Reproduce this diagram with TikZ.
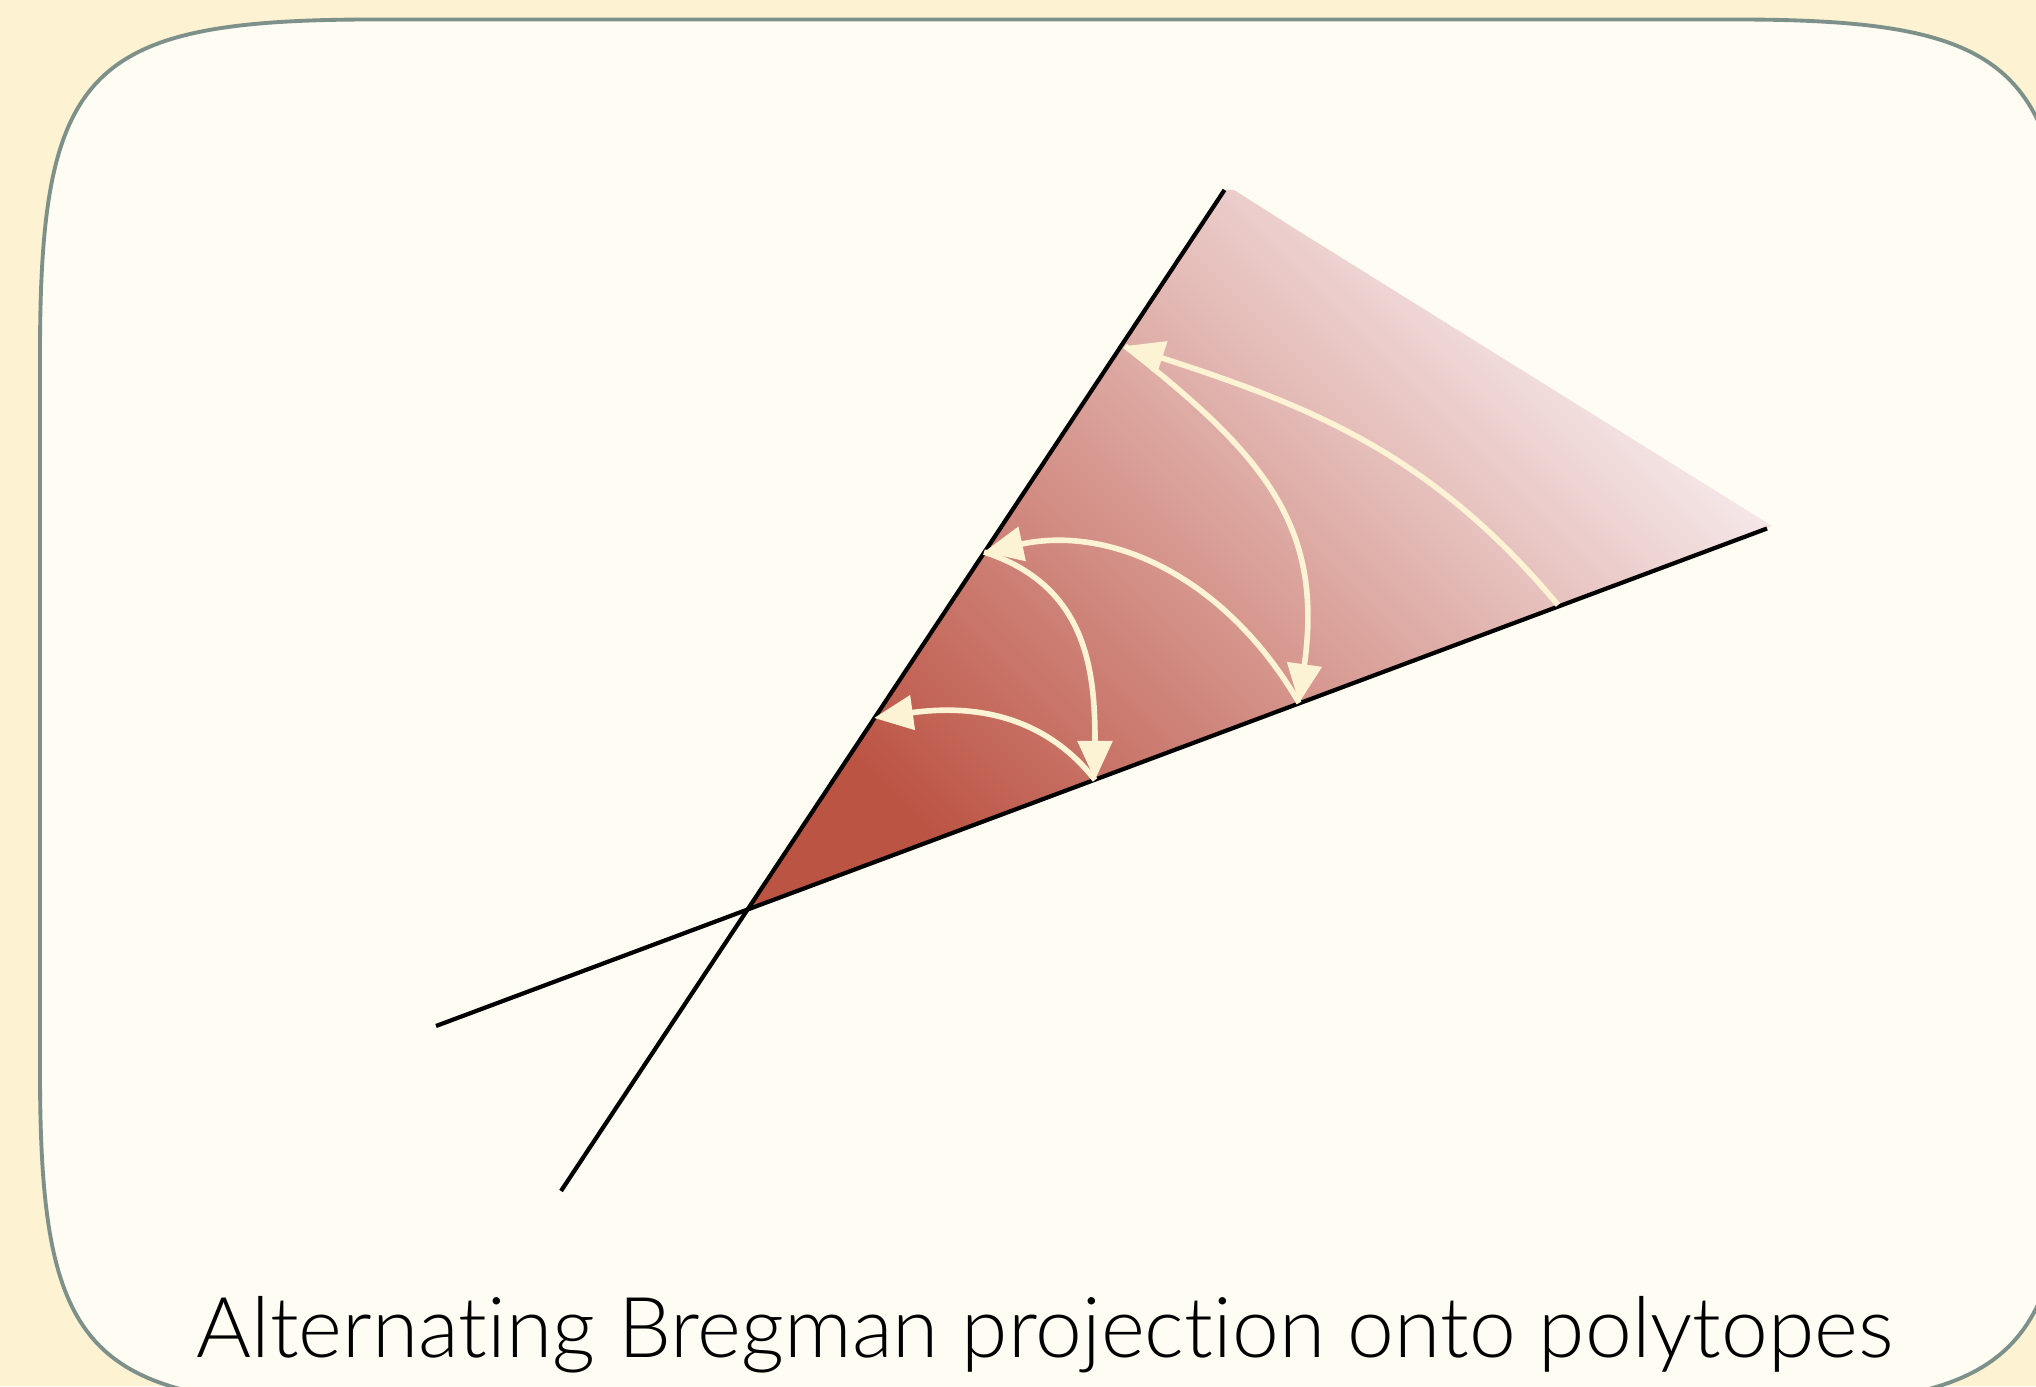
\documentclass[tikz,border=0pt]{standalone}
\usepackage{fontspec}
\setmainfont{Lato Light}[Ligatures={NoCommon}]
\usetikzlibrary{arrows.meta}
\definecolor{paper}{HTML}{FDF3D2}
\definecolor{panel}{HTML}{FFFCF4}
\definecolor{rim}{HTML}{7D918A}
\definecolor{cream}{HTML}{FCF3D4}
\definecolor{brick}{HTML}{BC5444}
\definecolor{blush}{HTML}{F9F1F3}

\begin{document}
\begin{tikzpicture}[>={Triangle[length=3.9mm,width=3.4mm]},
  edge/.style={line width=1.2pt},
  proj/.style={->,cream,line width=1.6pt}]
\useasboundingbox (0,0) rectangle (20.36,13.86);
\fill[paper] (0,0) rectangle (20.36,13.86);
\clip (0,0) rectangle (20.36,13.86);
\draw[rim,fill=panel,line width=1.1pt] (0.40,10.315) -- (0.40,3.15)
  .. controls (0.40,0.28) and (0.88,-0.20) .. (3.75,-0.20) -- (17.34,-0.20)
  .. controls (20.21,-0.20) and (20.69,0.28) .. (20.69,3.15) -- (20.69,10.315)
  .. controls (20.69,13.185) and (20.21,13.665) .. (17.34,13.665) -- (3.75,13.665)
  .. controls (0.88,13.665) and (0.40,13.185) .. (0.40,10.315) -- cycle;
\coordinate (A0) at (5.61,1.95);
\coordinate (A1) at (12.245,11.96);
\coordinate (B0) at (4.36,3.60);
\coordinate (B1) at (17.67,8.575);
\coordinate (O) at (7.466,4.76);
\shade[bottom color=brick,top color=blush,shading angle=-45]
  (O) -- (A1) -- (12.34,11.96) -- (12.985,11.55) -- (17.72,8.60) -- (B1) -- cycle;
\draw[edge] (A0) -- (A1);
\draw[edge] (B0) -- (B1);
\coordinate (p0) at (15.58,7.81);
\coordinate (p1) at (11.25,10.40);
\coordinate (p2) at (12.99,6.83);
\coordinate (p3) at (9.84,8.34);
\coordinate (p4) at (10.95,6.06);
\coordinate (p5) at (8.74,6.68);
\draw[proj] (p0) to[out=130,in=-18] (p1);
\draw[proj] (p1) to[out=-38,in=82,looseness=1.15] (p2);
\draw[proj] (p2) to[out=120,in=12] (p3);
\draw[proj] (p3) to[out=-18,in=90,looseness=1.1] (p4);
\draw[proj] (p4) to[out=128,in=8] (p5);
\node[anchor=base] (title) at (10.45,0.29) {\fontsize{23.9}{28}\selectfont Alternating Bregman projection onto polytopes};
\end{tikzpicture}
\end{document}
